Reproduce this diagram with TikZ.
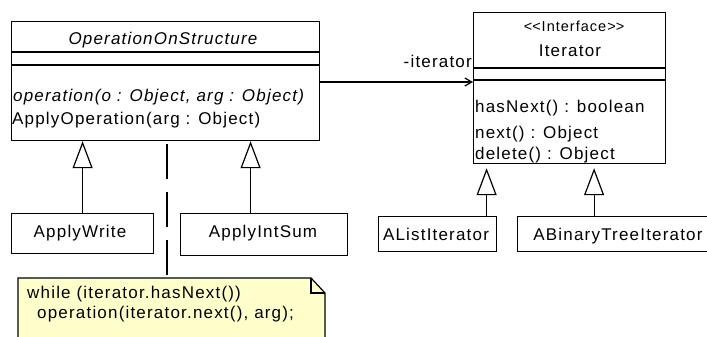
\documentclass[tikz,border=0pt]{standalone}
\usepackage{fontspec}
\setmainfont[LetterSpace=7]{Liberation Sans}
\usetikzlibrary{arrows.meta}
\definecolor{notefill}{HTML}{FFFFCC}
\begin{document}
\begin{tikzpicture}[x=1pt,y=-1pt,
  every node/.style={font=\fontsize{17}{20}\selectfont, inner sep=0pt},
  cls/.style={draw, line width=1.2pt, anchor=north west, inner sep=0pt},
  txt/.style={anchor=base west},
  ctxt/.style={anchor=base},
  gen/.style={line width=1.2pt, -{Triangle[open, length=27pt, width=20pt, line width=1.2pt]}},
  assoc/.style={line width=1.2pt, -{Straight Barb[length=7pt, width=8pt, line width=1.2pt]}},
  anchorline/.style={line width=1.2pt, dash pattern=on 35pt off 13pt}
]
\useasboundingbox (0,0) rectangle (707,337);

% OperationOnStructure
\node[cls, minimum width=308pt, minimum height=119pt] (ops) at (11,21) {};
\draw[line width=1.2pt] (11,52) -- (319,52) (11,65) -- (319,65);
\node[ctxt] (opsname) at (163,45) {\itshape OperationOnStructure};
\node[txt] (opsm1) at (13,102) {\itshape operation(o : Object, arg : Object)};
\node[txt] (opsm2) at (12,124) {ApplyOperation(arg : Object)};

% Iterator
\node[cls, minimum width=192pt, minimum height=151pt] (it) at (473,12) {};
\draw[line width=1.2pt] (473,68) -- (665,68) (473,80) -- (665,80);
\node[ctxt, font=\fontsize{14.5}{16}\selectfont] (itst) at (574,32) {<\kern0pt<Interface>\kern0pt>};
\node[ctxt] (itname) at (570,57) {Iterator};
\node[txt] (itm1) at (475,113) {hasNext() : boolean};
\node[txt] (itm2) at (475,138) {next() : Object};
\node[txt] (itm3) at (475,159) {delete() : Object};

% subclasses
\node[cls, minimum width=142pt, minimum height=40pt] (aw) at (11,213) {};
\node[ctxt] (awt) at (80,237) {ApplyWrite};
\node[cls, minimum width=167pt, minimum height=42pt] (ais) at (180,213) {};
\node[ctxt] (aist) at (263,237) {ApplyIntSum};
\node[cls, minimum width=118pt, minimum height=35pt] (ali) at (378,216) {};
\node[ctxt] (alit) at (436,240) {AListIterator};
\node[cls, minimum width=191pt, minimum height=35pt] (abt) at (517,216) {};
\node[ctxt] (abtt) at (618,240) {ABinaryTreeIterator};

% note
\path[fill=notefill, draw, line width=1.2pt] (18,340) -- (18,278) -- (311,278) -- (325,293) -- (325,340);
\draw[line width=1.2pt] (311,278) -- (311,293) -- (325,293);
\node[txt] (n1) at (27,298) {while (iterator.hasNext())};
\node[txt] (n2) at (37,318) {operation(iterator.next(), arg);};
\coordinate (notetop) at (167,278);

% connectors
\draw[assoc] (ops.east |- 0,82) coordinate (as0) -- (it.west |- as0);
\node[anchor=base east] (itlab) at (472,68) {-iterator};

\draw[gen] (aw.north) -- (aw.north |- ops.south);
\draw[gen] ([xshift=-13.5pt]ais.north) -- ([xshift=-13.5pt]ais.north |- ops.south);
\draw[gen, shorten >=4pt] ([xshift=49pt]ali.north) -- ([xshift=49pt]ali.north |- it.south);
\draw[gen, shorten >=4pt] ([xshift=-19pt]abt.north) -- ([xshift=-19pt]abt.north |- it.south);

\draw[anchorline] (notetop |- ops.south) ++(0,3) -- (notetop);
\end{tikzpicture}
\end{document}
